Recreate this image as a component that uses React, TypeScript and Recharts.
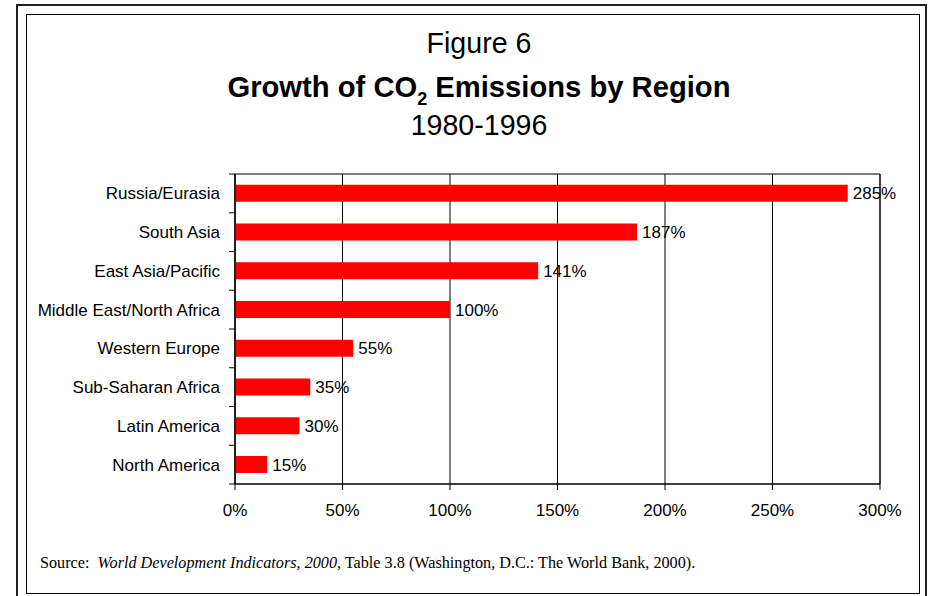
import React from "react";
import { BarChart, Bar, XAxis, YAxis, CartesianGrid, ReferenceArea, LabelList } from "recharts";

const regions = [
  "Russia/Eurasia",
  "South Asia",
  "East Asia/Pacific",
  "Middle East/North Africa",
  "Western Europe",
  "Sub-Saharan Africa",
  "Latin America",
  "North America",
];
const growth = [285, 187, 141, 100, 55, 35, 30, 15];
const xTicks = [0, 50, 100, 150, 200, 250, 300];

const data = regions.map((r, i) => ({ region: r, growth: growth[i] }));

const FONT = '"Liberation Sans", Arial, Helvetica, sans-serif';
const SERIF = '"Liberation Serif", "Times New Roman", serif';

const TICK_SIZE = 6;
const TICK_MARGIN = 9;
const FS = 17;

const YTick = (props: any) => {
  const { x, y, payload, index, visibleTicksCount } = props;
  const off = payload.offset ?? 0;
  const ax = x + TICK_MARGIN + TICK_SIZE;
  const isLast = index === visibleTicksCount - 1;
  return (
    <g>
      <line x1={ax - TICK_SIZE} x2={ax} y1={y - off} y2={y - off} stroke="#000" />
      {isLast && <line x1={ax - TICK_SIZE} x2={ax} y1={y + off} y2={y + off} stroke="#000" />}
      <text x={x} y={y} dy="0.355em" textAnchor="end" fontSize={FS} fontFamily={FONT} fill="#000">
        {payload.value}
      </text>
    </g>
  );
};

export default function App() {
  return (
    <div style={{ position: "absolute", left: 0, top: 0, width: 929, height: 596, background: "#fff", overflow: "hidden" }}>
      <div style={{ position: "absolute", left: 16, top: 4, width: 911, height: 620, border: "2px solid #222", boxSizing: "border-box" }} />
      <div style={{ position: "absolute", left: 26, top: 14, width: 894, height: 580, border: "1px solid #000", boxSizing: "border-box" }} />
      <div style={{ position: "absolute", left: 0, top: 0 }}>
        <BarChart
          width={929}
          height={596}
          data={data}
          layout="vertical"
          margin={{ top: 174, right: 49, bottom: 82, left: 35 }}
          barCategoryGap="28%"
        >
          <CartesianGrid horizontal={false} vertical={true} stroke="#000" strokeOpacity={1} />
          <XAxis
            type="number"
            domain={[0, 300]}
            ticks={xTicks}
            tickFormatter={(v: number) => `${v}%`}
            axisLine={{ stroke: "#000" }}
            tickLine={{ stroke: "#000" }}
            tickSize={6}
            tickMargin={14}
            height={30}
            tick={{ fontSize: FS, fontFamily: FONT, fill: "#000" }}
            interval={0}
          />
          <YAxis
            type="category"
            dataKey="region"
            width={200}
            axisLine={{ stroke: "#000" }}
            tickLine={false}
            tickSize={TICK_SIZE}
            tickMargin={TICK_MARGIN}
            tick={<YTick />}
            interval={0}
          />
          <ReferenceArea x1={0} x2={300} fill="none" stroke="#000" strokeOpacity={1} ifOverflow="visible" />
          <Bar dataKey="growth" fill="#FF0000" isAnimationActive={false}>
            <LabelList
              dataKey="growth"
              position="right"
              offset={5}
              formatter={(v: any) => `${v}%`}
              style={{ fontSize: FS, fontFamily: FONT, fill: "#000" }}
            />
          </Bar>
        </BarChart>
      </div>
      <svg width={929} height={596} style={{ position: "absolute", left: 0, top: 0, pointerEvents: "none" }}>
        <text x={479} y={53} textAnchor="middle" fontSize={28.6} fontFamily={FONT} fill="#000">
          Figure 6
        </text>
        <text x={479} y={97} textAnchor="middle" fontSize={29.2} fontWeight="bold" fontFamily={FONT} fill="#000">
          Growth of CO
          <tspan fontSize={18} dy={8}>2</tspan>
          <tspan dy={-8}> Emissions by Region</tspan>
        </text>
        <text x={479} y={135} textAnchor="middle" fontSize={28.6} fontFamily={FONT} fill="#000">
          1980-1996
        </text>
        <text x={40} y={568} fontSize={16.2} fontFamily={SERIF} fill="#000">
          Source:{"\u00a0\u00a0"}
          <tspan fontStyle="italic">World Development Indicators, 2000</tspan>
          , Table 3.8 (Washington, D.C.: The World Bank, 2000).
        </text>
      </svg>
    </div>
  );
}
